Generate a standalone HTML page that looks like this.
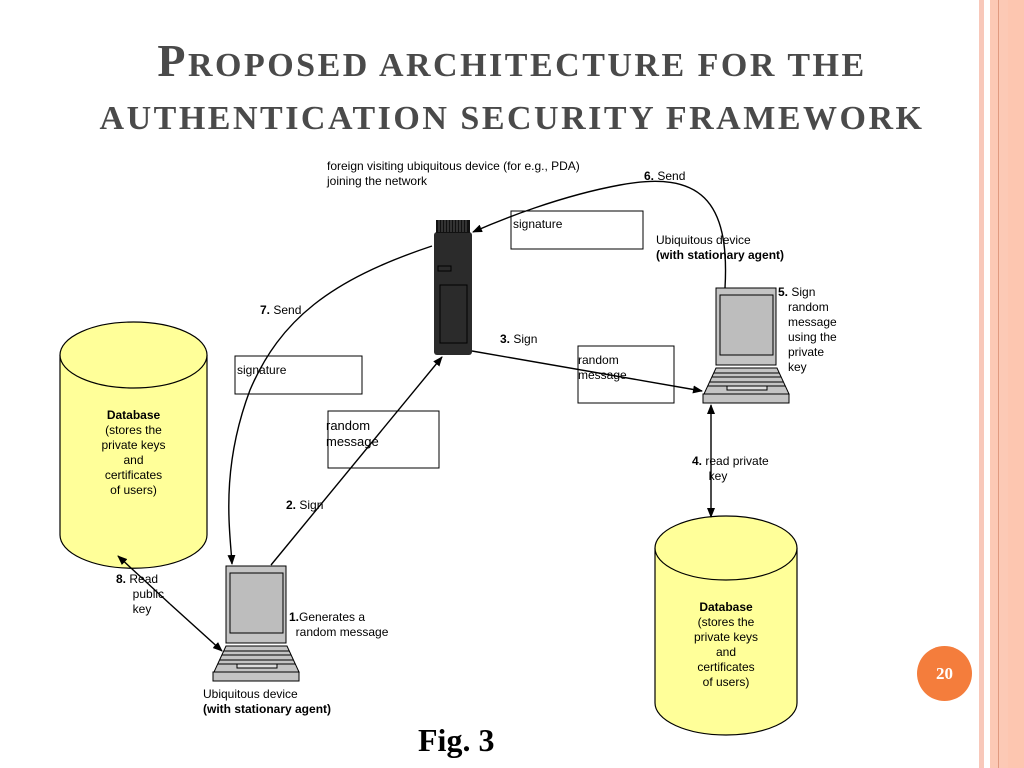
<!DOCTYPE html>
<html><head><style>
body{margin:0;width:1024px;height:768px;background:#fff;position:relative;overflow:hidden;font-family:"Liberation Sans",sans-serif}
.t{position:absolute;font-size:12px;color:#000;line-height:15px}
</style></head><body>
<div style="position:absolute;left:979px;top:0;width:5px;height:768px;background:#f8c8ba"></div>
<div style="position:absolute;left:990px;top:0;width:34px;height:768px;background:#fcc9b5"></div>
<div style="position:absolute;left:998px;top:0;width:1px;height:768px;background:#e09a80"></div>
<div style="position:absolute;left:1008px;top:0;width:16px;height:768px;background:#fdc6b0"></div>
<div style="position:absolute;left:0;top:34px;width:1024px;text-align:center;font-family:'Liberation Serif',serif;font-weight:bold;color:#4a4a4a;font-size:34px;letter-spacing:2.5px;line-height:53px;font-variant:small-caps;white-space:nowrap">
<span style="font-size:46px">P</span>ROPOSED ARCHITECTURE FOR THE<br>AUTHENTICATION SECURITY FRAMEWORK</div>
<svg width="1024" height="768" style="position:absolute;left:0;top:0">
<defs><marker id="a" markerWidth="10" markerHeight="8" refX="9" refY="4" orient="auto" markerUnits="userSpaceOnUse"><path d="M0,0L10,4L0,8z"/></marker></defs>
<g fill="#ffff99" stroke="#000" stroke-width="1.2">
<path d="M60,355 V535 A73,33 0 0 0 207,535 V355"/>
<ellipse cx="133.5" cy="355" rx="73.5" ry="33"/>
<path d="M655,548 V703 A71,32 0 0 0 797,703 V548"/>
<ellipse cx="726" cy="548" rx="71" ry="32"/>
</g>
<g fill="#fff" stroke="#000" stroke-width="1">
<rect x="511" y="211" width="132" height="38"/>
<rect x="235" y="356" width="127" height="38"/>
<rect x="328" y="411" width="111" height="57"/>
<rect x="578" y="346" width="96" height="57"/>
</g>
<rect x="434" y="232" width="38" height="123" rx="3" fill="#2b2b2b"/>
<rect x="436" y="220" width="34" height="13" fill="#111"/>
<g stroke="#555" stroke-width="1"><path d="M439,220v12M442,220v12M445,220v12M448,220v12M451,220v12M454,220v12M457,220v12M460,220v12M463,220v12M466,220v12"/></g>
<rect x="438" y="266" width="13" height="5" fill="none" stroke="#000"/>
<rect x="440" y="285" width="27" height="58" fill="none" stroke="#000"/>
<g id="lp" stroke="#000" stroke-width="1" fill="#c4c4c4">
<rect x="226" y="566" width="60" height="77"/>
<rect x="230" y="573" width="53" height="60" fill="#bdbdbd"/>
<path d="M226,646 H287 L299,672 H214 Z"/>
<path d="M224,651H289M222,655H291M220,660H293M218,664H295" fill="none"/>
<rect x="237" y="664" width="40" height="4" fill="#ddd"/>
<rect x="213" y="672" width="86" height="9"/>
</g>
<use href="#lp" transform="translate(490,-278)"/>
<g stroke="#000" stroke-width="1.4" fill="none" marker-end="url(#a)">
<path d="M725,288 C730,200 700,170 620,185 C560,196 500,220 473,232"/>
<path d="M432,246 C330,280 280,320 250,390 C220,470 230,530 232,564"/>
<path d="M271,565 L442,357"/>
<path d="M472,351 L702,391"/>
<path d="M711,440 L711,405"/>
<path d="M711,440 L711,517"/>
<path d="M170,604 L118,556"/>
<path d="M170,604 L222,651"/>
</g>
</svg>
<div class="t" style="left:327px;top:159px">foreign visiting ubiquitous device (for e.g., PDA)<br>joining the network</div>
<div class="t" style="left:644px;top:169px"><b>6.</b> Send</div>
<div class="t" style="left:513px;top:217px">signature</div>
<div class="t" style="left:656px;top:233px">Ubiquitous device<br><b>(with stationary agent)</b></div>
<div class="t" style="left:778px;top:285px"><b>5.</b> Sign<br>&nbsp;&nbsp; random<br>&nbsp;&nbsp; message<br>&nbsp;&nbsp; using the<br>&nbsp;&nbsp; private<br>&nbsp;&nbsp; key</div>
<div class="t" style="left:260px;top:303px"><b>7.</b> Send</div>
<div class="t" style="left:500px;top:332px"><b>3.</b> Sign</div>
<div class="t" style="left:578px;top:353px">random<br>message</div>
<div class="t" style="left:237px;top:363px">signature</div>
<div class="t" style="left:326px;top:418px;font-size:13px;line-height:16px">random<br>message</div>
<div class="t" style="left:60px;top:408px;width:147px;text-align:center"><b>Database</b><br>(stores the<br>private keys<br>and<br>certificates<br>of users)</div>
<div class="t" style="left:692px;top:454px"><b>4.</b> read private<br>&nbsp;&nbsp;&nbsp;&nbsp; key</div>
<div class="t" style="left:286px;top:498px"><b>2.</b> Sign</div>
<div class="t" style="left:116px;top:572px"><b>8.</b> Read<br>&nbsp;&nbsp;&nbsp;&nbsp; public<br>&nbsp;&nbsp;&nbsp;&nbsp; key</div>
<div class="t" style="left:655px;top:600px;width:142px;text-align:center"><b>Database</b><br>(stores the<br>private keys<br>and<br>certificates<br>of users)</div>
<div class="t" style="left:289px;top:610px"><b>1.</b>Generates a<br>&nbsp;&nbsp;random message</div>
<div class="t" style="left:203px;top:687px">Ubiquitous device<br><b>(with stationary agent)</b></div>
<div style="position:absolute;left:418px;top:722px;font-family:'Liberation Serif',serif;font-weight:bold;font-size:32px">Fig. 3</div>
<div style="position:absolute;left:917px;top:646px;width:55px;height:55px;border-radius:50%;background:#f47d3c;color:#fff;font-family:'Liberation Serif',serif;font-weight:bold;font-size:17px;text-align:center;line-height:55px">20</div>
</body></html>
